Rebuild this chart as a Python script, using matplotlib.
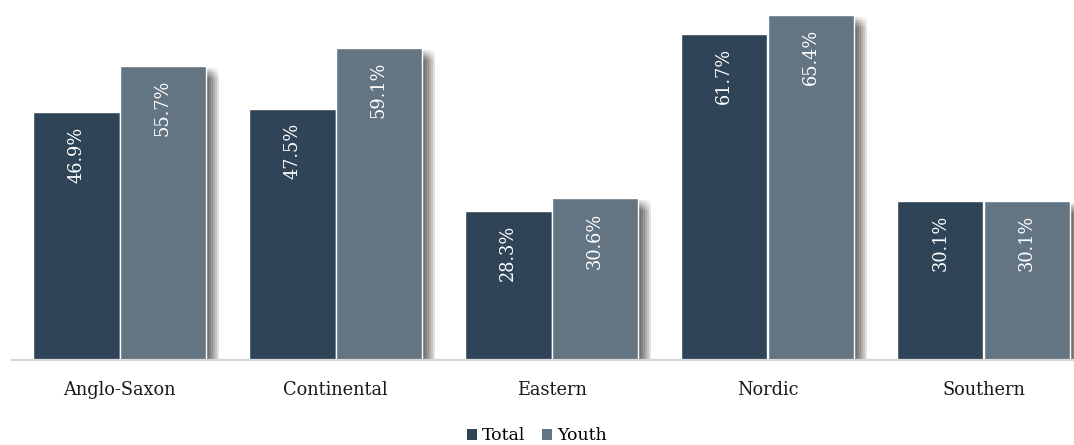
import numpy as np
import matplotlib.pyplot as plt
import matplotlib.patheffects as pe
from matplotlib.patches import Patch

# share of each group, by welfare regime
regions = ['Anglo-Saxon', 'Continental', 'Eastern', 'Nordic', 'Southern']
total = [46.9, 47.5, 28.3, 61.7, 30.1]
youth = [55.7, 59.1, 30.6, 65.4, 30.1]

col_total = '#2F4457'
col_youth = '#637483'

plt.rcParams['font.family'] = ['DejaVu Serif']

fig = plt.figure(figsize=(10.74, 4.45), dpi=100)
# plot area runs a little past the right edge of the figure
ax = fig.add_axes([11.5 / 1074, 85 / 445, 1080 / 1074, 360 / 445])

# soft drop shadow: a grid of faint offset copies acts as a blur
px = 0.72  # points per pixel at 100 dpi
shadow = []
for dx in range(1, 15, 2):
    for dy in range(2, 14, 2):
        shadow.append(pe.SimplePatchShadow(offset=(dx * px, -dy * px),
                                           shadow_rgbFace='black', alpha=0.018))
shadow.append(pe.Normal())

x = np.arange(len(regions))
w = 0.4
b1 = ax.bar(x - w / 2, total, w, color=col_total, edgecolor='white', linewidth=1.0,
            path_effects=shadow, zorder=2)
b2 = ax.bar(x + w / 2, youth, w, color=col_youth, edgecolor='white', linewidth=1.0,
            path_effects=shadow, zorder=3)

for bars, vals in ((b1, total), (b2, youth)):
    for r, v in zip(bars, vals):
        ax.annotate(f'{v:.1f}%', (r.get_x() + r.get_width() / 2, v),
                    xytext=(0, -10), textcoords='offset points',
                    rotation=90, ha='center', va='top', color='white',
                    fontsize=12.8, zorder=5)

ax.set_xlim(-0.5, 4.5)
ax.set_ylim(0, 68.2)
ax.set_xticks(x)
ax.set_xticklabels(regions, fontsize=12.8, color='#1a1a1a')
ax.tick_params(axis='x', length=0, pad=15)
ax.set_yticks([])
for s in ('top', 'right', 'left'):
    ax.spines[s].set_visible(False)
ax.spines['bottom'].set_color('#D9D9D9')
ax.spines['bottom'].set_linewidth(1.6)
ax.spines['bottom'].set_zorder(4)

handles = [Patch(facecolor=col_total), Patch(facecolor=col_youth)]
fig.legend(handles, ['Total', 'Youth'], loc='center', bbox_to_anchor=(0.5, 1 - 436 / 445),
           ncol=2, frameon=False, fontsize=12.5, handlelength=0.55, handleheight=0.55,
           handletextpad=0.3, columnspacing=1.0)

fig.savefig('out.png', dpi=100)
